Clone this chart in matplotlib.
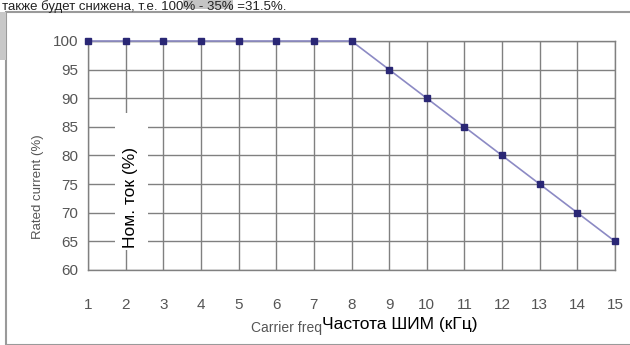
import matplotlib.pyplot as plt
from matplotlib.patches import Rectangle

plt.rcParams['font.family'] = ['Liberation Sans', 'DejaVu Sans']

# carrier frequency (kHz) vs rated current (%)
freq = [1, 2, 3, 4, 5, 6, 7, 8, 9, 10, 11, 12, 13, 14, 15]
current = [100, 100, 100, 100, 100, 100, 100, 100, 95, 90, 85, 80, 75, 70, 65]
yticks = [60, 65, 70, 75, 80, 85, 90, 95, 100]

W, H = 630, 345
fig = plt.figure(figsize=(W / 100, H / 100), dpi=100)
fig.patch.set_facecolor('white')

# page text above the scanned figure
fig.add_artist(Rectangle((183 / W, 1 - 9 / H), 50 / W, 9 / H, transform=fig.transFigure,
                         facecolor='#c4c4c4', edgecolor='none'))
fig.text(2 / W, 1 - 0.5 / H, u'также будет снижена, т.е. 100% - 35% =31.5%.',
         fontsize=9.5, color='#222222', va='top', ha='left')

# frame of the scanned figure
fig.add_artist(Rectangle((6 / W, 0), 1.2, 1 - 12 / H, transform=fig.transFigure,
                         fill=False, edgecolor='#9a9a9a', linewidth=1.5))
fig.add_artist(Rectangle((0, 1 - 60 / H), 6 / W, 48 / H, transform=fig.transFigure,
                         facecolor='#c8c8c8', edgecolor='none'))

ax = fig.add_axes([88 / W, 75 / H, 527 / W, 229 / H])
ax.set_xlim(1, 15)
ax.set_ylim(60, 100)
ax.set_xticks(freq)
ax.set_yticks(yticks)
ax.grid(True, color='#808080', linewidth=1.0)
ax.set_axisbelow(True)
for s in ax.spines.values():
    s.set_color('#808080')
    s.set_linewidth(1.0)
ax.tick_params(length=0, labelsize=11, labelcolor='#555555')
ax.tick_params(axis='x', pad=20)
ax.tick_params(axis='y', pad=7)

ax.plot(freq, current, color='#8c8ac4', linewidth=1.2, zorder=3, clip_on=False)
ax.plot(freq, current, linestyle='none', marker='s', markersize=5,
        color='#2a2775', zorder=4, clip_on=False)

# white patch with the russian label over the grid
fig.add_artist(Rectangle((115 / W, 1 - 250 / H), 33 / W, 137 / H,
                         transform=fig.transFigure, facecolor='white',
                         edgecolor='none', zorder=5))
fig.text(130 / W, 1 - 198 / H, u'Ном. ток (%)', rotation=90, fontsize=12.5,
         color='black', ha='center', va='center', zorder=6)

fig.text(38 / W, 1 - 187 / H, 'Rated current (%)', rotation=90, fontsize=9.5,
         color='#555555', ha='center', va='center')
fig.text(322 / W, 1 - 328 / H, 'Carrier freq', fontsize=10, color='#555555',
         ha='right', va='center')
fig.text(322 / W, 1 - 325 / H, u'Частота ШИМ (кГц)', fontsize=12.5,
         color='black', ha='left', va='center')

fig.savefig('out.png', dpi=100)
